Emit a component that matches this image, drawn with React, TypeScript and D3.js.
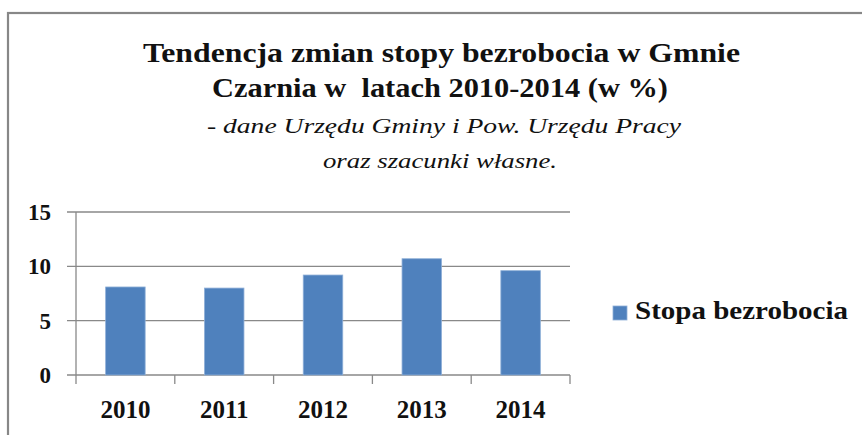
import React from "react";
import * as d3 from "d3";

const years = ["2010", "2011", "2012", "2013", "2014"];
const unemployment = [8.1, 8.0, 9.2, 10.7, 9.6];
const yTicks = [0, 5, 10, 15];
const titleLines = [
  "Tendencja zmian stopy bezrobocia w Gmnie",
  "Czarnia w  latach 2010-2014 (w %)",
];
const subtitleLines = [
  "- dane Urzędu Gminy i Pow. Urzędu Pracy",
  "oraz szacunki własne.",
];
const seriesName = "Stopa bezrobocia";

const W = 862;
const H = 435;
const FONT = "'Liberation Serif', 'Times New Roman', serif";
const BAR = "#4F81BD";
const GRID = "#898989";

export default function App() {
  const x = d3.scaleBand<string>().domain(years).range([76, 570]).paddingInner(0.6).paddingOuter(0.3);
  const y = d3.scaleLinear().domain([0, 15]).range([375, 212]);
  const step = x.step();
  const tickXs = d3.range(years.length + 1).map((i) => 76 + i * step);

  const titleSpecs = [
    { text: titleLines[0], x: 441.5, y: 62, w: 597 },
    { text: titleLines[1], x: 440, y: 97, w: 456 },
  ];
  const subSpecs = [
    { text: subtitleLines[0], x: 444, y: 133, w: 474 },
    { text: subtitleLines[1], x: 440, y: 168, w: 234 },
  ];

  return (
    <svg
      width={W}
      height={H}
      style={{ position: "absolute", left: 0, top: 0, display: "block", background: "#fff" }}
    >
      <rect x={0} y={0} width={W} height={H} fill="#fff" />
      <rect x={8} y={13} width={W + 20} height={H + 20} fill="none" stroke="#878787" strokeWidth={2.2} />

      {titleSpecs.map((t, i) => (
        <text
          key={"t" + i}
          x={t.x}
          y={t.y}
          textAnchor="middle"
          fontFamily={FONT}
          fontWeight="bold"
          fontSize={28}
          textLength={t.w}
          lengthAdjust="spacingAndGlyphs"
          fill="#111"
          style={{ whiteSpace: "pre" }}
        >
          {t.text}
        </text>
      ))}
      {subSpecs.map((t, i) => (
        <text
          key={"s" + i}
          x={t.x}
          y={t.y}
          textAnchor="middle"
          fontFamily={FONT}
          fontStyle="italic"
          fontSize={21}
          textLength={t.w}
          lengthAdjust="spacingAndGlyphs"
          fill="#111"
        >
          {t.text}
        </text>
      ))}

      {yTicks.map((v) => (
        <g key={"g" + v}>
          <line x1={67} x2={570} y1={y(v)} y2={y(v)} stroke={GRID} strokeWidth={1.3} />
          <text
            x={51}
            y={y(v)}
            dy="0.35em"
            textAnchor="end"
            fontFamily={FONT}
            fontWeight="bold"
            fontSize={23}
            fill="#111"
          >
            {v}
          </text>
        </g>
      ))}
      <line x1={76} x2={76} y1={y(15)} y2={384} stroke={GRID} strokeWidth={1.3} />
      {tickXs.slice(1).map((tx, i) => (
        <line key={"tk" + i} x1={tx} x2={tx} y1={y(0)} y2={384} stroke={GRID} strokeWidth={1.3} />
      ))}

      {years.map((yr, i) => (
        <rect
          key={yr}
          x={x(yr)}
          y={y(unemployment[i])}
          width={x.bandwidth()}
          height={y(0) - y(unemployment[i])}
          fill={BAR}
          stroke="#8fb0d8"
          strokeWidth={0.8}
        />
      ))}

      {years.map((yr) => (
        <text
          key={"l" + yr}
          x={(x(yr) as number) + x.bandwidth() / 2}
          y={418}
          textAnchor="middle"
          fontFamily={FONT}
          fontWeight="bold"
          fontSize={25}
          fill="#111"
        >
          {yr}
        </text>
      ))}

      <rect x={613} y={306} width={14} height={14} fill={BAR} stroke="#8fb0d8" strokeWidth={0.8} />
      <text
        x={635}
        y={319}
        fontFamily={FONT}
        fontWeight="bold"
        fontSize={25}
        textLength={213}
        lengthAdjust="spacingAndGlyphs"
        fill="#111"
      >
        {seriesName}
      </text>
    </svg>
  );
}
